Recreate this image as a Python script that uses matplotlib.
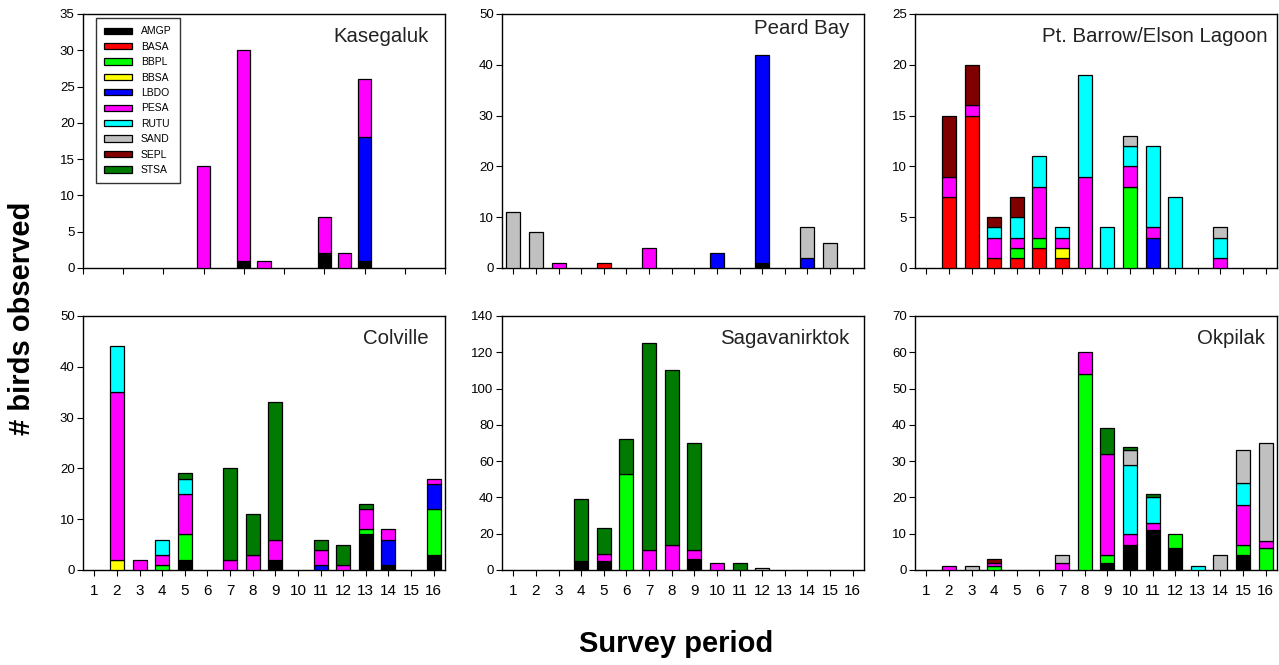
import matplotlib
matplotlib.use("Agg")
import matplotlib.pyplot as plt
import numpy as np
from matplotlib.patches import Patch

plt.rcParams['font.family'] = ['Liberation Sans', 'DejaVu Sans']

SPECIES = ["AMGP", "BASA", "BBPL", "BBSA", "LBDO", "PESA", "RUTU", "SAND", "SEPL", "STSA"]
SPECIES_COLORS = ["#000000", "#FF0000", "#00FF00", "#FFFF00", "#0000FF",
                  "#FF00FF", "#00FFFF", "#C0C0C0", "#800000", "#007A00"]

PERIODS = list(range(1, 17))

# Kasegaluk uses a numeric period axis (0-18)
KASEGALUK_PERIODS = [6, 8, 9, 12, 13, 14]
KASEGALUK = {
    "AMGP": [0, 1, 0, 2, 0, 1],
    "LBDO": [0, 0, 0, 0, 0, 17],
    "PESA": [14, 29, 1, 5, 2, 8],
}

#                1  2  3  4  5  6  7  8  9 10 11 12 13 14 15 16
PEARD_BAY = {
    "AMGP": [0, 0, 0, 0, 0, 0, 0, 0, 0, 0, 0, 1, 0, 0, 0, 0],
    "BASA": [0, 0, 0, 0, 1, 0, 0, 0, 0, 0, 0, 0, 0, 0, 0, 0],
    "LBDO": [0, 0, 0, 0, 0, 0, 0, 0, 0, 3, 0, 41, 0, 2, 0, 0],
    "PESA": [0, 0, 1, 0, 0, 0, 4, 0, 0, 0, 0, 0, 0, 0, 0, 0],
    "SAND": [11, 7, 0, 0, 0, 0, 0, 0, 0, 0, 0, 0, 0, 6, 5, 0],
}

PT_BARROW = {
    "BASA": [0, 7, 15, 1, 1, 2, 1, 0, 0, 0, 0, 0, 0, 0, 0, 0],
    "BBPL": [0, 0, 0, 0, 1, 1, 0, 0, 0, 8, 0, 0, 0, 0, 0, 0],
    "BBSA": [0, 0, 0, 0, 0, 0, 1, 0, 0, 0, 0, 0, 0, 0, 0, 0],
    "LBDO": [0, 0, 0, 0, 0, 0, 0, 0, 0, 0, 3, 0, 0, 0, 0, 0],
    "PESA": [0, 2, 1, 2, 1, 5, 1, 9, 0, 2, 1, 0, 0, 1, 0, 0],
    "RUTU": [0, 0, 0, 1, 2, 3, 1, 10, 4, 2, 8, 7, 0, 2, 0, 0],
    "SAND": [0, 0, 0, 0, 0, 0, 0, 0, 0, 1, 0, 0, 0, 1, 0, 0],
    "SEPL": [0, 6, 4, 1, 2, 0, 0, 0, 0, 0, 0, 0, 0, 0, 0, 0],
}

COLVILLE = {
    "AMGP": [0, 0, 0, 0, 2, 0, 0, 0, 2, 0, 0, 0, 7, 1, 0, 3],
    "BBPL": [0, 0, 0, 1, 5, 0, 0, 0, 0, 0, 0, 0, 1, 0, 0, 9],
    "BBSA": [0, 2, 0, 0, 0, 0, 0, 0, 0, 0, 0, 0, 0, 0, 0, 0],
    "LBDO": [0, 0, 0, 0, 0, 0, 0, 0, 0, 0, 1, 0, 0, 5, 0, 5],
    "PESA": [0, 33, 2, 2, 8, 0, 2, 3, 4, 0, 3, 1, 4, 2, 0, 1],
    "RUTU": [0, 9, 0, 3, 3, 0, 0, 0, 0, 0, 0, 0, 0, 0, 0, 0],
    "STSA": [0, 0, 0, 0, 1, 0, 18, 8, 27, 0, 2, 4, 1, 0, 0, 0],
}

SAGAVANIRKTOK = {
    "AMGP": [0, 0, 0, 5, 5, 0, 0, 0, 6, 0, 0, 0, 0, 0, 0, 0],
    "BBPL": [0, 0, 0, 0, 0, 53, 0, 0, 0, 0, 0, 0, 0, 0, 0, 0],
    "PESA": [0, 0, 0, 0, 4, 0, 11, 14, 5, 4, 0, 0, 0, 0, 0, 0],
    "SAND": [0, 0, 0, 0, 0, 0, 0, 0, 0, 0, 0, 1, 0, 0, 0, 0],
    "STSA": [0, 0, 0, 34, 14, 19, 114, 96, 59, 0, 4, 0, 0, 0, 0, 0],
}

OKPILAK = {
    "AMGP": [0, 0, 0, 0, 0, 0, 0, 0, 2, 7, 11, 6, 0, 0, 4, 0],
    "BBPL": [0, 0, 0, 1, 0, 0, 0, 54, 2, 0, 0, 4, 0, 0, 3, 6],
    "PESA": [0, 1, 0, 1, 0, 0, 2, 6, 28, 3, 2, 0, 0, 0, 11, 2],
    "RUTU": [0, 0, 0, 0, 0, 0, 0, 0, 0, 19, 7, 0, 1, 0, 6, 0],
    "SAND": [0, 0, 1, 0, 0, 0, 2, 0, 0, 4, 0, 0, 0, 4, 9, 27],
    "SEPL": [0, 0, 0, 1, 0, 0, 0, 0, 0, 0, 0, 0, 0, 0, 0, 0],
    "STSA": [0, 0, 0, 0, 0, 0, 0, 0, 7, 1, 1, 0, 0, 0, 0, 0],
}

W, H = 1279, 665
fig = plt.figure(figsize=(W / 100, H / 100), dpi=100)
fig.patch.set_facecolor("white")

AX_W, AX_H = 362, 254
COL_LEFT = [83, 502, 915]
ROW_TOP = [14, 316]


def make_axes(col, row):
    left = COL_LEFT[col] / W
    bottom = 1 - (ROW_TOP[row] + AX_H) / H
    return fig.add_axes([left, bottom, AX_W / W, AX_H / H])


def stacked(ax, x, data, width):
    base = np.zeros(len(x))
    for sp, col in zip(SPECIES, SPECIES_COLORS):
        if sp not in data:
            continue
        vals = np.asarray(data[sp], dtype=float)
        mask = vals > 0
        ax.bar(np.asarray(x)[mask], vals[mask], width=width, bottom=base[mask],
               color=col, edgecolor="black", linewidth=0.9, zorder=3)
        base += vals


def style(ax, ymax, ystep, title, inset, dy, xlabels):
    ax.set_ylim(0, ymax)
    ax.set_yticks(np.arange(0, ymax + ystep / 2, ystep))
    for s in ax.spines.values():
        s.set_linewidth(1.0)
    ax.tick_params(axis="both", direction="out", length=4, width=0.8,
                   top=False, right=False)
    ax.tick_params(axis="y", labelsize=9.5, pad=2)
    ax.tick_params(axis="x", labelsize=11, pad=6)
    if not xlabels:
        ax.set_xticklabels([])
    ax.text(1 - inset / AX_W, 1 - dy / AX_H, title, transform=ax.transAxes,
            ha="right", va="center", fontsize=14.7, color="#222222")


# Kasegaluk
ax = make_axes(0, 0)
stacked(ax, KASEGALUK_PERIODS, KASEGALUK, 0.65)
ax.set_xlim(0, 18)
ax.set_xticks(np.arange(0, 19, 2))
style(ax, 35, 5, "Kasegaluk", 16, 23, False)
handles = [Patch(facecolor=c, edgecolor="black", linewidth=0.9, label=s)
           for s, c in zip(SPECIES, SPECIES_COLORS)]
leg = ax.legend(handles=handles, loc="upper left", bbox_to_anchor=(13 / AX_W, 1 - 4 / AX_H),
                borderaxespad=0, fontsize=7.5, frameon=True, fancybox=False,
                edgecolor="black", handlelength=2.7, handleheight=0.55,
                handletextpad=0.8, labelspacing=0.52, borderpad=0.8)
leg.get_frame().set_linewidth(1.0)

panels = [
    (1, 0, PEARD_BAY, 50, 10, "Peard Bay", 15, 14, False),
    (2, 0, PT_BARROW, 25, 5, "Pt. Barrow/Elson Lagoon", 9, 23, False),
    (0, 1, COLVILLE, 50, 10, "Colville", 16, 23, True),
    (1, 1, SAGAVANIRKTOK, 140, 20, "Sagavanirktok", 15, 23, True),
    (2, 1, OKPILAK, 70, 10, "Okpilak", 12, 23, True),
]
for col, row, data, ymax, ystep, title, inset, dy, xl in panels:
    ax = make_axes(col, row)
    stacked(ax, PERIODS, data, 0.62)
    ax.set_xlim(0.5, 16.5)
    ax.set_xticks(PERIODS)
    style(ax, ymax, ystep, title, inset, dy, xl)

fig.text(22 / W, 1 - 318 / H, "# birds observed", rotation=90, ha="center", va="center",
         fontsize=21, fontweight="bold")
fig.text(676 / W, 1 - 644 / H, "Survey period", ha="center", va="center",
         fontsize=21, fontweight="bold")

fig.savefig("out.png", dpi=100, facecolor="white")
